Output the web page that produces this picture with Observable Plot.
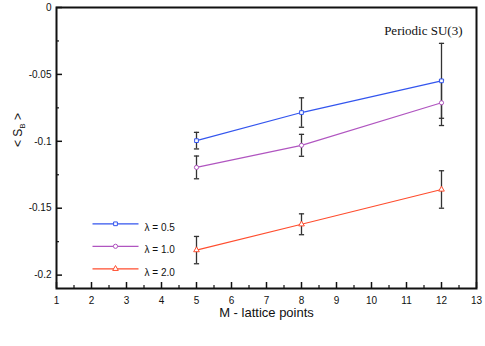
<!DOCTYPE html>
<html>
<head>
<meta charset="utf-8">
<script src="https://cdn.jsdelivr.net/npm/d3@7"></script>
<script src="https://cdn.jsdelivr.net/npm/@observablehq/plot@0.6"></script>
<style>
  html, body { margin: 0; padding: 0; background: white; }
</style>
</head>
<body>
<div id="chart"></div>
<script>
// ---- Data ----
const M = [5, 8, 12];
const seriesNames = ["λ = 0.5", "λ = 1.0", "λ = 2.0"];
const sB_05 = [-0.0995, -0.0785, -0.0548];
const err_05 = [0.0062, 0.0110, 0.0280];
const sB_10 = [-0.1195, -0.1030, -0.0712];
const err_10 = [0.0085, 0.0082, 0.0170];
const sB_20 = [-0.1813, -0.1620, -0.1360];
const err_20 = [0.0102, 0.0078, 0.0140];
const xTicks = [1, 2, 3, 4, 5, 6, 7, 8, 9, 10, 11, 12, 13];
const xMinor = [1.5, 2.5, 3.5, 4.5, 5.5, 6.5, 7.5, 8.5, 9.5, 10.5, 11.5, 12.5];
const yTicks = [0, -0.05, -0.1, -0.15, -0.2];
const yTickLabels = ["0", "-0.05", "-0.1", "-0.15", "-0.2"];
const yMinor = [-0.025, -0.075, -0.125, -0.175];
const titleText = "Periodic SU(3)";
const xLabel = "M - lattice points";

// ---- Styles ----
const colors = ["#3355ee", "#b055c0", "#ff4d2e"];
const symbols = ["square", "circle", "triangle"];
const values = [sB_05, sB_10, sB_20];
const errors = [err_05, err_10, err_20];

const rows = [];
values.forEach((vals, s) => {
  vals.forEach((v, i) => rows.push({series: seriesNames[s], s, M: M[i], v, e: errors[s][i]}));
});

// custom horizontal line symbol (pixel-based)
const hline = {
  draw(ctx, size) {
    const r = Math.sqrt(size / Math.PI);
    ctx.moveTo(-r, 0);
    ctx.lineTo(r, 0);
  }
};

const marks = [
  // axes ticks inward
  Plot.axisX(xTicks, {tickSize: 6, dy: -6, text: null, label: null, strokeWidth: 1.5}),
  Plot.axisX(xMinor, {tickSize: 3, dy: -3, text: null, label: null, strokeWidth: 1.2}),
  Plot.axisX(xTicks, {tickSize: 0, tickPadding: 8, label: null, tickFormat: d => String(d), fontSize: 10}),
  Plot.axisY(yTicks, {tickSize: 6, dx: 6, text: null, label: null, strokeWidth: 1.5}),
  Plot.axisY(yMinor, {tickSize: 3, dx: 3, text: null, label: null, strokeWidth: 1.2}),
  Plot.axisY(yTicks, {tickSize: 0, tickPadding: 5, label: null, tickFormat: d => yTickLabels[yTicks.indexOf(d)], fontSize: 10}),
  Plot.frame({stroke: "#111", strokeWidth: 2}),
];

values.forEach((vals, s) => {
  const data = rows.filter(r => r.s === s);
  marks.push(Plot.line(data, {x: "M", y: "v", stroke: colors[s], strokeWidth: 1.2}));
});

// error bars
marks.push(Plot.ruleX(rows, {x: "M", y1: d => d.v - d.e, y2: d => d.v + d.e, stroke: "#333", strokeWidth: 1.3}));
marks.push(Plot.dot(rows, {x: "M", y: d => d.v - d.e, symbol: hline, r: 2.6, stroke: "#333", fill: "none", strokeWidth: 1.3}));
marks.push(Plot.dot(rows, {x: "M", y: d => d.v + d.e, symbol: hline, r: 2.6, stroke: "#333", fill: "none", strokeWidth: 1.3}));

// markers
values.forEach((vals, s) => {
  const data = rows.filter(r => r.s === s);
  marks.push(Plot.dot(data, {x: "M", y: "v", symbol: symbols[s], r: 2.1, stroke: colors[s], fill: "white", strokeWidth: 1}));
});

// legend inside the frame
seriesNames.forEach((name, s) => {
  const dy = 216.3 + 22.5 * s;
  marks.push(Plot.dot([name], {frameAnchor: "top-left", dx: 59, dy, symbol: hline, r: 23, stroke: colors[s], fill: "none", strokeWidth: 1.3}));
  marks.push(Plot.dot([name], {frameAnchor: "top-left", dx: 59, dy, symbol: symbols[s], r: 2.1, stroke: colors[s], fill: "white", strokeWidth: 1}));
  marks.push(Plot.text([name], {frameAnchor: "top-left", dx: 88, dy, text: d => d, textAnchor: "start", fontSize: 10, fill: "#111"}));
});

// title
marks.push(Plot.text([titleText], {frameAnchor: "top-right", dx: -14, dy: 18, text: d => d, textAnchor: "end",
  fontFamily: "Liberation Serif, 'Times New Roman', serif", fontSize: 13, fill: "#111"}));

// x label
marks.push(Plot.text([xLabel], {frameAnchor: "bottom", dy: 28, text: d => d, fontSize: 13, fill: "#111"}));

// y label
marks.push(Plot.text(["<SB>"], {frameAnchor: "left", dx: -38, dy: -1, text: d => d, rotate: -90, fontSize: 12, fill: "#111"}));

const chart = Plot.plot({
  width: 485,
  height: 346,
  marginLeft: 56,
  marginRight: 9,
  marginTop: 7,
  marginBottom: 58,
  x: {domain: [1, 13]},
  y: {domain: [-0.21, 0]},
  style: {fontFamily: "'Liberation Sans', Arial, sans-serif", fontSize: "10px", color: "#111", background: "white"},
  marks
});

// subscript for y label
d3.select(chart).selectAll("text").filter(function() { return this.textContent === "<SB>"; })
  .each(function() {
    const t = d3.select(this);
    t.text(null);
    t.append("tspan").text("< S");
    t.append("tspan").attr("font-size", 8).attr("dy", 3).text("B");
    t.append("tspan").attr("dy", -3).text(" >");
  });

document.getElementById("chart").appendChild(chart);
</script>
</body>
</html>
